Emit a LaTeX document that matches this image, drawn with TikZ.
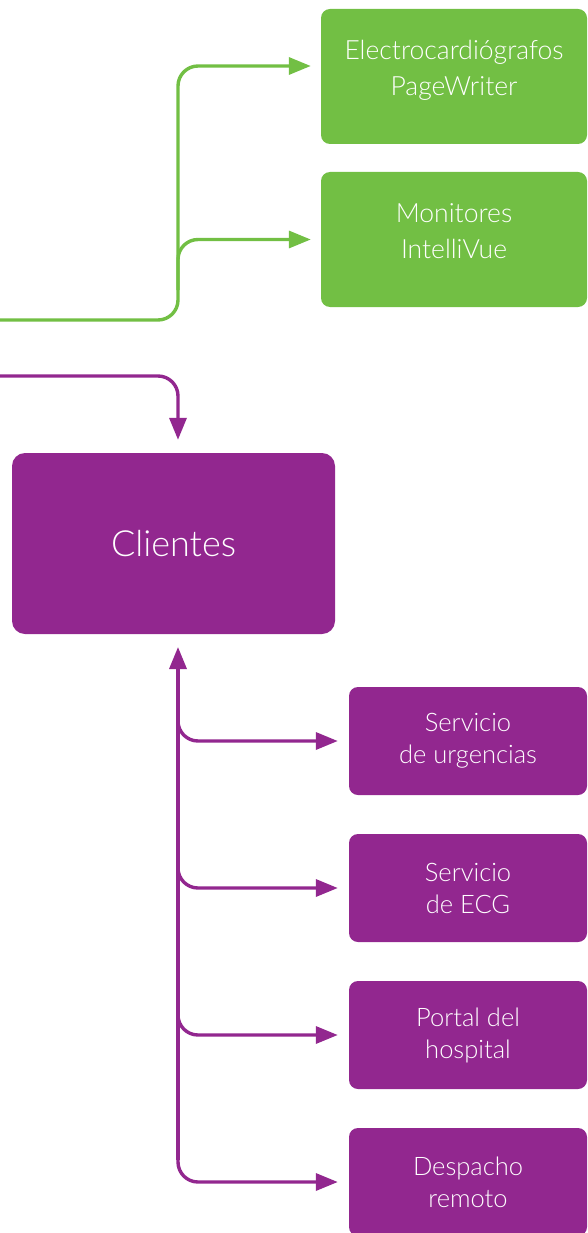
\documentclass[tikz,border=0pt]{standalone}
\usepackage{fontspec}
\setmainfont{Lato}[UprightFont={* Light}]
\usetikzlibrary{arrows.meta,positioning}
\definecolor{lg}{HTML}{72BF44}
\definecolor{pu}{HTML}{92278F}
\tikzset{
    gbox/.style =   {rectangle,
                    rounded corners=9pt,
                    fill=lg,
                    draw=none,
                    text=white,
                    align=center,
                    inner sep=0pt,
                    text depth=17pt,
                    minimum width=266pt,
                    minimum height=135pt,
                    font=\fontsize{26.5}{36}\selectfont},
    pbox/.style =   {rectangle,
                    rounded corners=9pt,
                    fill=pu,
                    draw=none,
                    text=white,
                    align=center,
                    inner sep=0pt,
                    minimum width=238pt,
                    minimum height=108pt,
                    font=\fontsize{25.5}{32}\selectfont},
    cbox/.style =   {rectangle,
                    rounded corners=13pt,
                    fill=pu,
                    draw=none,
                    text=white,
                    inner sep=0pt,
                    minimum width=323pt,
                    minimum height=181pt,
                    font=\fontsize{36}{40}\selectfont},
    -,
    gline/.style =  {draw=lg,
                    line width=3.4pt,
                    rounded corners=20pt,
                    ->,
                    shorten >=10pt},
    pline/.style =  {draw=pu,
                    line width=3.4pt,
                    rounded corners=20pt,
                    ->,
                    shorten >=11pt},
    >={Triangle[length=22pt,width=17pt]},
    node distance=147pt}

\begin{document}
\begin{tikzpicture}[x=1pt,y=-1pt]
    \useasboundingbox (0,0) rectangle (587,1233);

    % green boxes
    \node[gbox]  (ecg)  at (454,76.5)               {Electrocardiógrafos\\PageWriter};
    \node[gbox]  (mon)  [below of=ecg,node distance=163pt] {Monitores\\IntelliVue};

    % clientes and the purple boxes
    \node[cbox]  (cli)  at (173.5,543.5)            {Clientes};
    \node[pbox]  (urg)  at (468,741)                {Servicio\\de urgencias};
    \node[pbox]  (ecgs) [below of=urg]              {Servicio\\de ECG};
    \node[pbox]  (hosp) [below of=ecgs]             {Portal del\\hospital};
    \node[pbox]  (desp) [below of=hosp]             {Despacho\\remoto};

    \coordinate (g0) at (0,320);
    \coordinate (gt) at (178,320);
    \coordinate (gm) at (178,290);
    \coordinate (p0) at (0,376);
    \coordinate (pa) at (178,647);
    \coordinate (pc) at (178,690);
    \coordinate (pb) at (178,1160);

    \draw[gline]  (g0) -- (gt) |- ([yshift=10.5pt]ecg.west);
    \draw[gline]  (gm) |- (mon.west);

    \draw[pline,shorten >=13pt]  (p0) -| (cli.north -| pa);
    \draw[pline,shorten >=0pt]   (pb) -- (pa);
    \foreach \b in {urg,ecgs,hosp,desp}
        \draw[pline]  (pc) |- (\b.west);
\end{tikzpicture}
\end{document}
